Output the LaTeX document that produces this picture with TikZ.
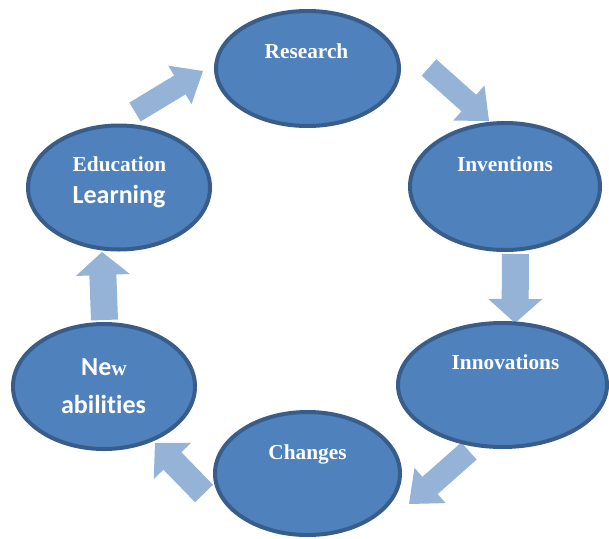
\documentclass[tikz,border=0pt]{standalone}
\usepackage{fontspec}
\setmainfont{Liberation Serif}
\newfontfamily\calfont[Ligatures=NoCommon]{Carlito}
\usetikzlibrary{shapes.geometric,calc}

\definecolor{cyclefill}{HTML}{4F81BD}
\definecolor{cycleedge}{HTML}{385D8A}
\definecolor{arrowblue}{HTML}{95B3D7}

\tikzset{
  stage/.style={ellipse, draw=cycleedge, fill=cyclefill, line width=4pt, inner sep=0pt},
  serifword/.style={text=white, font=\fontsize{21.3}{24}\selectfont\bfseries, anchor=base, inner sep=0pt},
  sansword/.style={text=white, font=\calfont\fontsize{26}{30}\selectfont\bfseries, anchor=base, inner sep=0pt},
  flowarrow/.style={fill=arrowblue}
}

% block arrow: #1 tail centre, #2 tip, #3 half shaft width, #4 half head width, #5 head length
\newcommand\blockarrow[5]{%
  \coordinate (#1-neck) at ($(#2)!#5!(#1)$);
  \fill[flowarrow] ($(#1)!#3!90:(#2)$) -- ($(#1-neck)!#3!-90:(#1)$)
    -- ($(#1-neck)!#4!-90:(#1)$) -- (#2) -- ($(#1-neck)!#4!90:(#1)$)
    -- ($(#1-neck)!#3!90:(#1)$) -- ($(#1)!#3!-90:(#2)$) -- cycle;
}

\begin{document}
\begin{tikzpicture}[x=1pt, y=-1pt]
  \useasboundingbox (0,0) rectangle (609,538);
  \fill[white] (0,0) rectangle (609,538);

  % arrow ends
  \coordinate (a1s) at (135,112);   \coordinate (a1e) at (203,71);
  \coordinate (a2s) at (429,67.5);  \coordinate (a2e) at (489,121);
  \coordinate (a3s) at (515.5,254); \coordinate (a3e) at (515,323);
  \coordinate (a4s) at (469,451);   \coordinate (a4e) at (409,504);
  \coordinate (a5s) at (204,493.5); \coordinate (a5e) at (155,443);
  \coordinate (a6s) at (104.5,320); \coordinate (a6e) at (102,252);

  \blockarrow{a1s}{a1e}{11pt}{22.5pt}{27pt}
  \blockarrow{a2s}{a2e}{11pt}{23.5pt}{27pt}
  \blockarrow{a3s}{a3e}{13.5pt}{27pt}{24pt}
  \blockarrow{a4s}{a4e}{11.5pt}{23.5pt}{28pt}
  \blockarrow{a5s}{a5e}{12.5pt}{26pt}{25pt}
  \blockarrow{a6s}{a6e}{13.5pt}{27pt}{23pt}

  % the six stages
  \node[stage, minimum width=183pt, minimum height=115pt] (research)    at (307.5,68.5) {};
  \node[stage, minimum width=190pt, minimum height=127pt] (inventions)  at (505,186.5) {};
  \node[stage, minimum width=209pt, minimum height=124pt] (innovations) at (502.5,385) {};
  \node[stage, minimum width=185pt, minimum height=123pt] (changes)     at (307.5,473.5) {};
  \node[stage, minimum width=182pt, minimum height=125pt] (abilities)   at (104,386.5) {};
  \node[stage, minimum width=182pt, minimum height=124pt] (education)   at (119,187.5) {};

  % labels
  \node[serifword] (research-t)    at (306.5,58)  {Research};
  \node[serifword] (inventions-t)  at (505,171)   {Inventions};
  \node[serifword] (innovations-t) at (505.5,369) {Innovations};
  \node[serifword] (changes-t)     at (307.5,459) {Changes};
  \node[serifword] (education-t)   at (119.5,171) {Education};
  \node[sansword]  (learning-t)    at (119,203)   {Learning};
  \node[sansword]  (new-t)         at (104,375)   {Ne{\rmfamily\fontsize{21.3}{24}\selectfont w}};
  \node[sansword]  (abilities-t)   at (103.5,413) {abilities};
\end{tikzpicture}
\end{document}
